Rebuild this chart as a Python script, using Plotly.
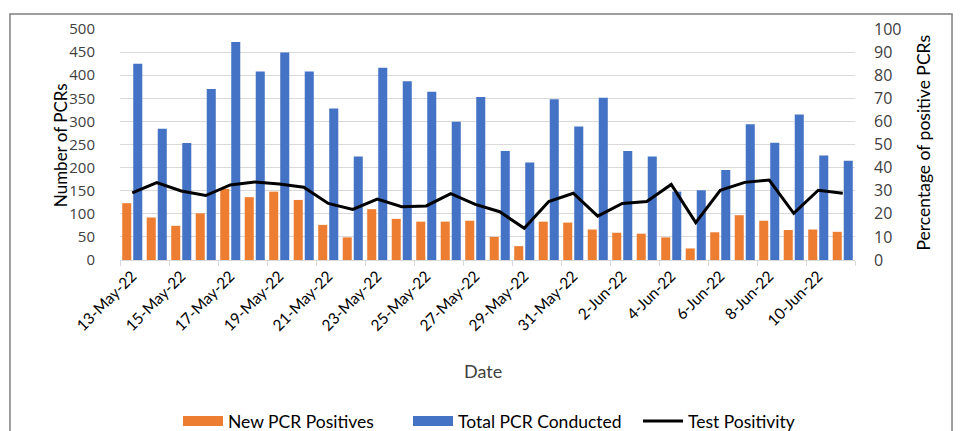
import plotly.graph_objects as go

dates = [
    "13-May-22", "14-May-22", "15-May-22", "16-May-22", "17-May-22", "18-May-22",
    "19-May-22", "20-May-22", "21-May-22", "22-May-22", "23-May-22", "24-May-22",
    "25-May-22", "26-May-22", "27-May-22", "28-May-22", "29-May-22", "30-May-22",
    "31-May-22", "1-Jun-22", "2-Jun-22", "3-Jun-22", "4-Jun-22", "5-Jun-22",
    "6-Jun-22", "7-Jun-22", "8-Jun-22", "9-Jun-22", "10-Jun-22", "11-Jun-22",
]
new_positives = [123, 92, 74, 101, 154, 136, 148, 130, 76, 49, 110, 89, 83, 83, 85,
                 50, 30, 83, 81, 66, 59, 57, 49, 25, 60, 97, 85, 65, 66, 61]
total_conducted = [425, 284, 253, 370, 472, 408, 449, 408, 328, 224, 416, 387, 364, 299, 353,
                   236, 211, 348, 289, 351, 236, 224, 148, 151, 195, 294, 254, 315, 226, 215]
test_positivity = [29.1, 33.5, 29.9, 27.9, 32.5, 33.8, 32.9, 31.5, 24.5, 21.9, 26.4, 23.1,
                   23.4, 28.7, 24.1, 20.9, 13.7, 25.3, 28.9, 19.0, 24.5, 25.3, 32.7, 16.2,
                   30.2, 33.6, 34.6, 20.2, 30.2, 28.9]

FONT = "Lato"
NUMF = "Open Sans"
TXT = "#404040"
ORANGE = "#ED7D31"
BLUE = "#4472C4"

fig = go.Figure()
fig.add_trace(go.Bar(x=dates, y=new_positives, name="New PCR Positives",
                     legendgroup="pos", showlegend=False,
                     marker=dict(color=ORANGE, line=dict(width=0))))
fig.add_trace(go.Bar(x=dates, y=total_conducted, name="Total PCR Conducted",
                     legendgroup="tot", showlegend=False,
                     marker=dict(color=BLUE, line=dict(width=0))))
# legend keys drawn as wide rectangles (Excel style), tied to the bar traces via legendgroup
fig.add_trace(go.Scatter(x=[None], y=[None], name="New PCR Positives", legendgroup="pos",
                         mode="lines", line=dict(color=ORANGE, width=11), hoverinfo="skip"))
fig.add_trace(go.Scatter(x=[None], y=[None], name="Total PCR Conducted", legendgroup="tot",
                         mode="lines", line=dict(color=BLUE, width=11), hoverinfo="skip"))
fig.add_trace(go.Scatter(x=dates, y=test_positivity, name="Test Positivity", yaxis="y2",
                         mode="lines", line=dict(color="#000000", width=3)))

# page has an 8px body margin, so the figure is 8px smaller than the window
fig.update_layout(
    width=956, height=423,
    margin=dict(l=112, r=109, t=21, b=171, autoexpand=False),
    paper_bgcolor="white", plot_bgcolor="white",
    barmode="group", bargap=0.1, bargroupgap=0.18,
    font=dict(family=FONT, color=TXT, size=14),
    showlegend=True,
    legend=dict(orientation="h", x=(178 - 120) / 735, xanchor="left", y=-0.697,
                yanchor="middle", font=dict(size=17.5, color="#000000"),
                itemwidth=40, entrywidth=175, entrywidthmode="pixels",
                tracegroupgap=0, bgcolor="rgba(0,0,0,0)"),
    xaxis=dict(type="category", tickmode="linear", tick0=0, dtick=2,
               tickangle=-45, tickson="boundaries", ticks="outside", ticklen=5,
               tickcolor="#d9d9d9", showline=True, linecolor="#d9d9d9", linewidth=1,
               showgrid=False, tickfont=dict(size=15.5, color="#000000"),
               ticklabelshift=0, automargin=False),
    yaxis=dict(range=[0, 500], dtick=50, showgrid=True, gridcolor="#d9d9d9", gridwidth=1,
               zeroline=False, showline=False, ticks="", ticklabelstandoff=24,
               tickfont=dict(size=15, color=TXT, family=NUMF), automargin=False),
    yaxis2=dict(range=[0, 100], dtick=10, overlaying="y", side="right", showgrid=False,
                zeroline=False, showline=False, ticks="", ticklabelstandoff=18,
                tickfont=dict(size=16, color=TXT, family=NUMF), automargin=False),
    annotations=[
        dict(text="Number of PCRs", xref="paper", yref="paper", x=-0.080, y=0.498,
             textangle=-90, showarrow=False, font=dict(size=17, color="#000000"),
             xanchor="center", yanchor="middle"),
        dict(text="Percentage of positive PCRs", xref="paper", yref="paper", x=1.093,
             y=0.506, textangle=-90, showarrow=False, font=dict(size=17.5, color="#000000"),
             xanchor="center", yanchor="middle"),
        dict(text="Date", xref="paper", yref="paper", x=0.494, y=-0.481, showarrow=False,
             font=dict(size=18, color=TXT), xanchor="center", yanchor="middle"),
    ],
    shapes=[
        dict(type="rect", xref="paper", yref="paper", x0=-0.1497, x1=1.132, y0=-0.9,
             y1=1.065, line=dict(color="#7f7f7f", width=1.5), fillcolor="rgba(0,0,0,0)",
             layer="below"),
    ],
)

fig.write_html("out.html")
